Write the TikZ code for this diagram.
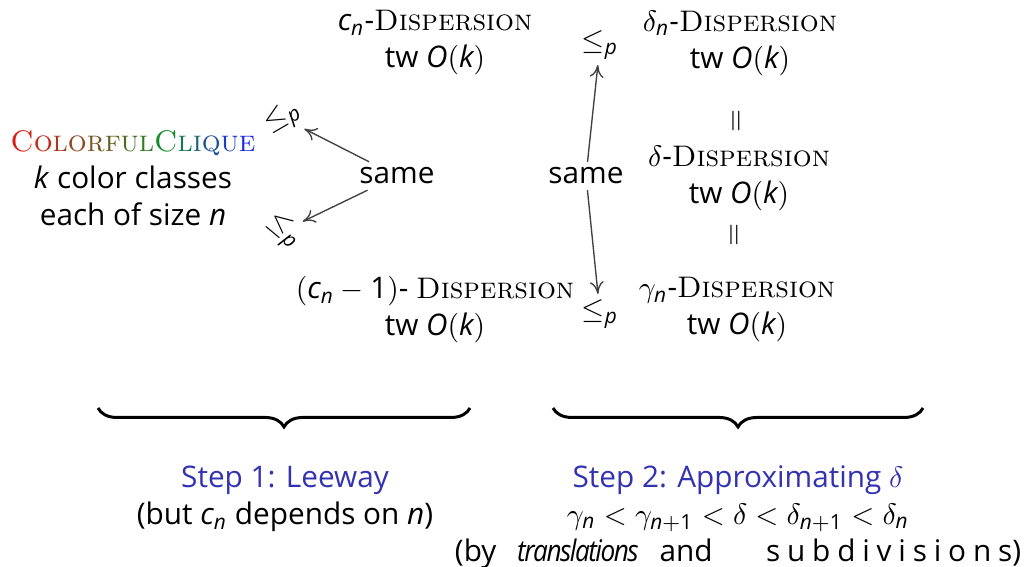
\documentclass[tikz,border=0pt]{standalone}
\usepackage{amsmath}
\usepackage{fontspec}
\setsansfont{Open Sans}
\renewcommand{\familydefault}{\sfdefault}
\usetikzlibrary{arrows.meta,decorations.pathreplacing}

\definecolor{stepblue}{RGB}{51,51,178}
\definecolor{cliquered}{RGB}{215,30,20}
\definecolor{cliquegreen}{RGB}{20,140,40}
\definecolor{cliqueblue}{RGB}{25,40,235}

% sans italic variables, problem names in small caps
\newcommand{\sv}[1]{\textit{#1}}
\newcommand{\pname}[1]{{\rmfamily\scshape #1}}
\newcommand{\redp}{$\le_{\sv{p}}$}
\newcommand{\twok}{tw $\sv{O}(\sv{k})$}
\newcommand{\cl}[2]{\textcolor{#1}{#2}}

\tikzset{%
  >={To[length=1.6mm,width=1.8mm]},
            base/.style = {align=center, inner sep=2pt,
                           font=\fontsize{11}{13.7}\selectfont},
         reduces/.style = {->, draw=black!75, line width=0.5pt},
          eqsign/.style = {base, inner sep=0pt},
           brace/.style = {decorate, line width=1.1pt,
                           decoration={brace, mirror, amplitude=7pt}},
}

\begin{document}
\begin{tikzpicture}[x=0.013cm, y=-0.013cm, every node/.style={base}]
  \useasboundingbox (0,-3) rectangle (1028,564);

  % left: the source problem
  \node (clique) at (133,175) {\pname{\cl{cliquered}{C}\cl{cliquered!88!cliquegreen}{o}%
      \cl{cliquered!75!cliquegreen}{l}\cl{cliquered!62!cliquegreen}{o}%
      \cl{cliquered!50!cliquegreen}{r}\cl{cliquered!40!cliquegreen}{f}%
      \cl{cliquered!28!cliquegreen}{u}\cl{cliquered!15!cliquegreen}{l}%
      \cl{cliquegreen}{C}\cl{cliquegreen!80!cliqueblue}{l}%
      \cl{cliquegreen!60!cliqueblue}{i}\cl{cliquegreen!40!cliqueblue}{q}%
      \cl{cliquegreen!20!cliqueblue}{u}\cl{cliqueblue}{e}}\\
    \sv{k} color classes\\each of size \sv{n}};
  \node (lep1) [rotate=30] at (283,115) {\redp};
  \node (lep2) [rotate=-40] at (283,228) {\redp};
  \node (same1) at (397,173) {same};

  % middle column
  \node (cdisp) at (435,40) {$\sv{c}_{\sv{n}}$-\pname{Dispersion}\\\twok};
  \node (cdisp1) at (435,307) {$(\sv{c}_{\sv{n}}-\text{1})$- \pname{Dispersion}\\\twok};
  \node (lepa) at (600,42) {\redp};
  \node (lepb) at (600,311) {\redp};
  \node (same2) at (586,173) {same};

  % right column
  \node (ddisp) at (740,40) {$\delta_{\sv{n}}$-\pname{Dispersion}\\\twok};
  \node (eq1) [eqsign] at (738,118) {\rotatebox{90}{$=$}};
  \node (delta) at (739,175) {$\delta$-\pname{Dispersion}\\\twok};
  \node (eq2) [eqsign] at (736,232) {\rotatebox{90}{$=$}};
  \node (gdisp) at (737,307) {$\gamma_{\sv{n}}$-\pname{Dispersion}\\\twok};

  \draw[reduces] (same1) -- (lep1);
  \draw[reduces] (same1) -- (lep2);
  \draw[reduces] (same2) -- (lepa);
  \draw[reduces] (same2) -- (lepb);

  % braces and the two steps
  \coordinate (b1l) at (98,405);
  \coordinate (b1r) at (470,405);
  \coordinate (b2l) at (553,405);
  \coordinate (b2r) at (923,405);
  \draw[brace] (b1l) -- (b1r);
  \draw[brace] (b2l) -- (b2r);

  \node (step1) at (285,496) {\textcolor{stepblue}{Step 1: Leeway}\\
    (but $\sv{c}_{\sv{n}}$ depends on \sv{n})};
  \node (step2) at (738,514) {\textcolor{stepblue}{Step 2: Approximating $\delta$}\\
    $\gamma_{\sv{n}} < \gamma_{\sv{n}+\text{1}} < \delta < \delta_{\sv{n}+\text{1}} < \delta_{\sv{n}}$\\
    (by\hspace{0.7em}{\itshape\addfontfeature{FakeStretch=0.88,LetterSpace=-5}translations}\hspace{0.7em}and%
    \hspace{1.8em}{\addfontfeature{LetterSpace=23}subdivisions})};
\end{tikzpicture}
\end{document}
